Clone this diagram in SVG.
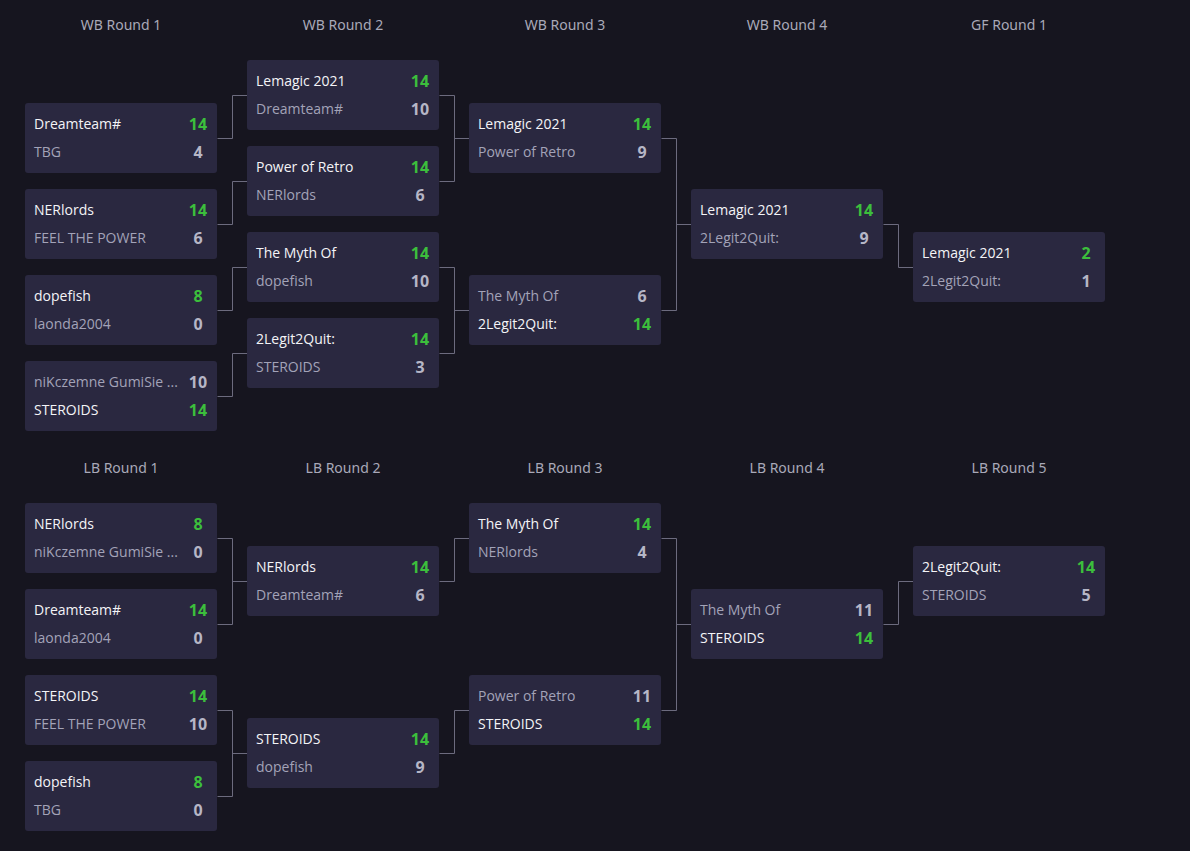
<svg xmlns="http://www.w3.org/2000/svg" width="1190" height="851" viewBox="0 0 1190 851">
<style>
.bg{fill:#16151f}
.box{fill:#2a2840}
.hdr{font-family:"Noto Sans","Open Sans",sans-serif;font-size:14px;fill:#a9a9b8;text-anchor:middle}
.nw{font-family:"Open Sans","Noto Sans",sans-serif;font-size:14px;font-weight:500;fill:#f4f4f7}
.nl{font-family:"Open Sans","Noto Sans",sans-serif;font-size:14px;fill:#a3a3b8}
.sw{font-family:"Noto Sans","Open Sans",sans-serif;font-size:16px;font-weight:700;fill:#3cbf3c;text-anchor:middle}
.sl{font-family:"Noto Sans","Open Sans",sans-serif;font-size:16px;font-weight:700;fill:#b6b6c6;text-anchor:middle}
.conn path{fill:none;stroke:#6c6b7e;stroke-width:1}
</style>
<defs>
<rect id="card" width="192" height="70" rx="3" class="box"/>
</defs>
<rect class="bg" x="0" y="0" width="1190" height="851"/>
<g id="headers">
<text class="hdr" x="121" y="30">WB Round 1</text>
<text class="hdr" x="343" y="30">WB Round 2</text>
<text class="hdr" x="565" y="30">WB Round 3</text>
<text class="hdr" x="787" y="30">WB Round 4</text>
<text class="hdr" x="1009" y="30">GF Round 1</text>
<text class="hdr" x="121" y="473">LB Round 1</text>
<text class="hdr" x="343" y="473">LB Round 2</text>
<text class="hdr" x="565" y="473">LB Round 3</text>
<text class="hdr" x="787" y="473">LB Round 4</text>
<text class="hdr" x="1009" y="473">LB Round 5</text>
</g>
<g class="conn" id="connectors">
<path d="M217.5 138.5H232.5V95.5H247"/>
<path d="M217.5 224.5H232.5V181.5H247"/>
<path d="M217.5 310.5H232.5V267.5H247"/>
<path d="M217.5 396.5H232.5V353.5H247"/>
<path d="M439.5 95.5H454.5V181.5H439.5M454.5 138.5H469"/>
<path d="M439.5 267.5H454.5V353.5H439.5M454.5 310.5H469"/>
<path d="M661.5 138.5H676.5V310.5H661.5M676.5 224.5H691"/>
<path d="M883.5 224.5H898.5V267.5H913"/>
<path d="M217.5 538.5H232.5V624.5H217.5M232.5 581.5H247"/>
<path d="M217.5 710.5H232.5V796.5H217.5M232.5 753.5H247"/>
<path d="M439.5 581.5H454.5V538.5H469"/>
<path d="M439.5 753.5H454.5V710.5H469"/>
<path d="M661.5 538.5H676.5V710.5H661.5M676.5 624.5H691"/>
<path d="M883.5 624.5H898.5V581.5H913"/>
</g>
<!-- WB Round 1 -->
<g id="wb1-1" transform="translate(25,103)"><use href="#card"/><text class="nw" x="9" y="26">Dreamteam#</text><text class="sw" x="173" y="27">14</text><text class="nl" x="9" y="54">TBG</text><text class="sl" x="173" y="55">4</text></g>
<g id="wb1-2" transform="translate(25,189)"><use href="#card"/><text class="nw" x="9" y="26">NERlords</text><text class="sw" x="173" y="27">14</text><text class="nl" x="9" y="54">FEEL THE POWER</text><text class="sl" x="173" y="55">6</text></g>
<g id="wb1-3" transform="translate(25,275)"><use href="#card"/><text class="nw" x="9" y="26">dopefish</text><text class="sw" x="173" y="27">8</text><text class="nl" x="9" y="54">laonda2004</text><text class="sl" x="173" y="55">0</text></g>
<g id="wb1-4" transform="translate(25,361)"><use href="#card"/><text class="nl" x="9" y="26">niKczemne GumiSie ...</text><text class="sl" x="173" y="27">10</text><text class="nw" x="9" y="54">STEROIDS</text><text class="sw" x="173" y="55">14</text></g>
<!-- WB Round 2 -->
<g id="wb2-1" transform="translate(247,60)"><use href="#card"/><text class="nw" x="9" y="26">Lemagic 2021</text><text class="sw" x="173" y="27">14</text><text class="nl" x="9" y="54">Dreamteam#</text><text class="sl" x="173" y="55">10</text></g>
<g id="wb2-2" transform="translate(247,146)"><use href="#card"/><text class="nw" x="9" y="26">Power of Retro</text><text class="sw" x="173" y="27">14</text><text class="nl" x="9" y="54">NERlords</text><text class="sl" x="173" y="55">6</text></g>
<g id="wb2-3" transform="translate(247,232)"><use href="#card"/><text class="nw" x="9" y="26">The Myth Of</text><text class="sw" x="173" y="27">14</text><text class="nl" x="9" y="54">dopefish</text><text class="sl" x="173" y="55">10</text></g>
<g id="wb2-4" transform="translate(247,318)"><use href="#card"/><text class="nw" x="9" y="26">2Legit2Quit:</text><text class="sw" x="173" y="27">14</text><text class="nl" x="9" y="54">STEROIDS</text><text class="sl" x="173" y="55">3</text></g>
<!-- WB Round 3 -->
<g id="wb3-1" transform="translate(469,103)"><use href="#card"/><text class="nw" x="9" y="26">Lemagic 2021</text><text class="sw" x="173" y="27">14</text><text class="nl" x="9" y="54">Power of Retro</text><text class="sl" x="173" y="55">9</text></g>
<g id="wb3-2" transform="translate(469,275)"><use href="#card"/><text class="nl" x="9" y="26">The Myth Of</text><text class="sl" x="173" y="27">6</text><text class="nw" x="9" y="54">2Legit2Quit:</text><text class="sw" x="173" y="55">14</text></g>
<!-- WB Round 4 -->
<g id="wb4-1" transform="translate(691,189)"><use href="#card"/><text class="nw" x="9" y="26">Lemagic 2021</text><text class="sw" x="173" y="27">14</text><text class="nl" x="9" y="54">2Legit2Quit:</text><text class="sl" x="173" y="55">9</text></g>
<!-- GF -->
<g id="gf1-1" transform="translate(913,232)"><use href="#card"/><text class="nw" x="9" y="26">Lemagic 2021</text><text class="sw" x="173" y="27">2</text><text class="nl" x="9" y="54">2Legit2Quit:</text><text class="sl" x="173" y="55">1</text></g>
<!-- LB Round 1 -->
<g id="lb1-1" transform="translate(25,503)"><use href="#card"/><text class="nw" x="9" y="26">NERlords</text><text class="sw" x="173" y="27">8</text><text class="nl" x="9" y="54">niKczemne GumiSie ...</text><text class="sl" x="173" y="55">0</text></g>
<g id="lb1-2" transform="translate(25,589)"><use href="#card"/><text class="nw" x="9" y="26">Dreamteam#</text><text class="sw" x="173" y="27">14</text><text class="nl" x="9" y="54">laonda2004</text><text class="sl" x="173" y="55">0</text></g>
<g id="lb1-3" transform="translate(25,675)"><use href="#card"/><text class="nw" x="9" y="26">STEROIDS</text><text class="sw" x="173" y="27">14</text><text class="nl" x="9" y="54">FEEL THE POWER</text><text class="sl" x="173" y="55">10</text></g>
<g id="lb1-4" transform="translate(25,761)"><use href="#card"/><text class="nw" x="9" y="26">dopefish</text><text class="sw" x="173" y="27">8</text><text class="nl" x="9" y="54">TBG</text><text class="sl" x="173" y="55">0</text></g>
<!-- LB Round 2 -->
<g id="lb2-1" transform="translate(247,546)"><use href="#card"/><text class="nw" x="9" y="26">NERlords</text><text class="sw" x="173" y="27">14</text><text class="nl" x="9" y="54">Dreamteam#</text><text class="sl" x="173" y="55">6</text></g>
<g id="lb2-2" transform="translate(247,718)"><use href="#card"/><text class="nw" x="9" y="26">STEROIDS</text><text class="sw" x="173" y="27">14</text><text class="nl" x="9" y="54">dopefish</text><text class="sl" x="173" y="55">9</text></g>
<!-- LB Round 3 -->
<g id="lb3-1" transform="translate(469,503)"><use href="#card"/><text class="nw" x="9" y="26">The Myth Of</text><text class="sw" x="173" y="27">14</text><text class="nl" x="9" y="54">NERlords</text><text class="sl" x="173" y="55">4</text></g>
<g id="lb3-2" transform="translate(469,675)"><use href="#card"/><text class="nl" x="9" y="26">Power of Retro</text><text class="sl" x="173" y="27">11</text><text class="nw" x="9" y="54">STEROIDS</text><text class="sw" x="173" y="55">14</text></g>
<!-- LB Round 4 -->
<g id="lb4-1" transform="translate(691,589)"><use href="#card"/><text class="nl" x="9" y="26">The Myth Of</text><text class="sl" x="173" y="27">11</text><text class="nw" x="9" y="54">STEROIDS</text><text class="sw" x="173" y="55">14</text></g>
<!-- LB Round 5 -->
<g id="lb5-1" transform="translate(913,546)"><use href="#card"/><text class="nw" x="9" y="26">2Legit2Quit:</text><text class="sw" x="173" y="27">14</text><text class="nl" x="9" y="54">STEROIDS</text><text class="sl" x="173" y="55">5</text></g>
</svg>
